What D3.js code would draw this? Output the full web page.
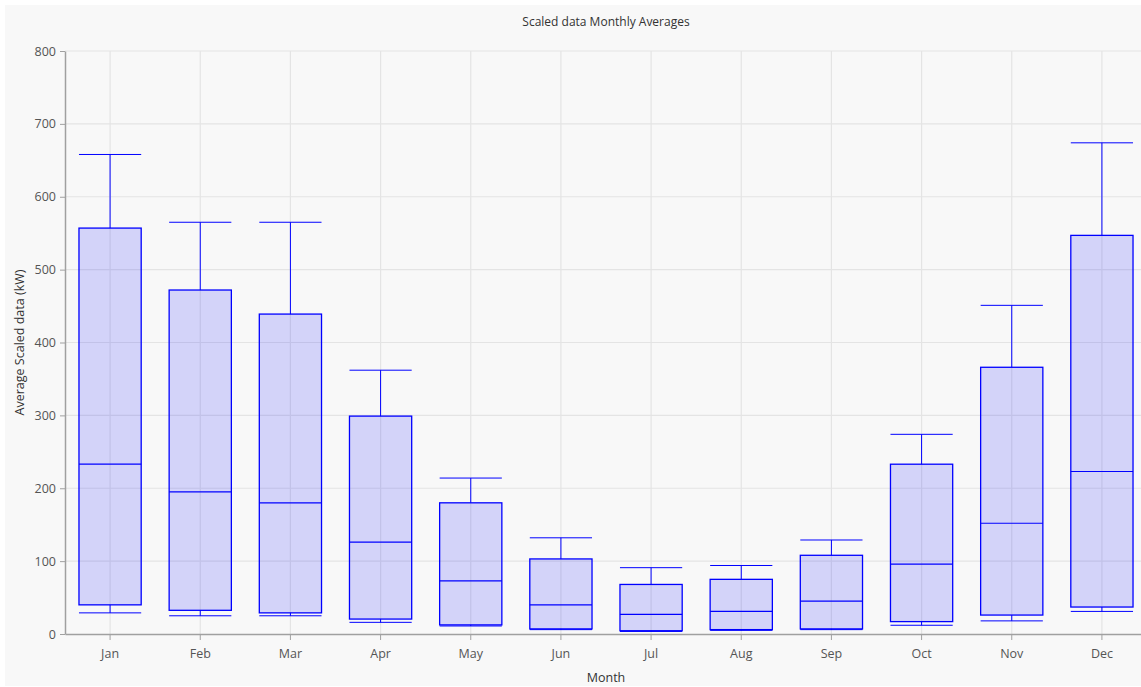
<!DOCTYPE html>
<html><head><meta charset="utf-8">
<script src="https://cdn.jsdelivr.net/npm/d3@7"></script>
<style>
html,body{margin:0;padding:0;background:#fff;}
svg{display:block;font-family:"Open Sans","Noto Sans",sans-serif;}
</style></head>
<body>
<svg id="c" width="1141" height="687"></svg>
<script>
const months = ["Jan","Feb","Mar","Apr","May","Jun","Jul","Aug","Sep","Oct","Nov","Dec"];
const whiskerLow  = [29, 25, 25, 16, 11, 6, 3.5, 5, 6, 12, 18, 31];
const q1          = [40, 32.5, 29, 20.5, 12.5, 7, 4.5, 6, 7, 17, 26, 37];
const median      = [233, 195, 180, 126, 73, 40, 27, 31, 45, 96, 152, 223];
const q3          = [557, 472, 439, 299, 180, 103, 68, 75, 108, 233, 366, 547];
const whiskerHigh = [658, 565, 565, 362, 214, 132, 91, 94, 129, 274, 451, 674];
const yTicks = [0,100,200,300,400,500,600,700,800];

const title = "Scaled data Monthly Averages";
const xTitle = "Month";
const yTitle = "Average Scaled data (kW)";

const svg = d3.select("#c");
const W = 1141, H = 687;
const m = {left:65, right:-6, top:51, bottom:53};

svg.append("rect").attr("x",5).attr("y",5).attr("width",W-5).attr("height",H-6).attr("fill","#f8f8f8");

const x = d3.scaleBand().domain(months).range([m.left, W - m.right]).paddingInner(0).paddingOuter(0);
const y = d3.scaleLinear().domain([0,800]).range([H - m.bottom, m.top]);

const data = months.map((mo,i)=>({mo, lo:whiskerLow[i], q1:q1[i], med:median[i], q3:q3[i], hi:whiskerHigh[i]}));

// grid
const g = svg.append("g");
g.selectAll("line.h").data(yTicks.slice(1)).join("line")
  .attr("x1",m.left).attr("x2",W).attr("y1",d=>y(d)).attr("y2",d=>y(d))
  .attr("stroke","#e4e4e4").attr("stroke-width",1.2);
g.selectAll("line.v").data(months).join("line")
  .attr("x1",d=>x(d)+x.bandwidth()/2).attr("x2",d=>x(d)+x.bandwidth()/2)
  .attr("y1",m.top).attr("y2",y(0))
  .attr("stroke","#e4e4e4").attr("stroke-width",1.2);

// boxes
const bw = x.bandwidth()*0.69;
const bx = svg.append("g").selectAll("g").data(data).join("g")
  .attr("transform",d=>`translate(${x(d.mo)+x.bandwidth()/2},0)`);
const blue = "#0000ff";
bx.append("line").attr("x1",0).attr("x2",0).attr("y1",d=>y(d.hi)).attr("y2",d=>y(d.q3)).attr("stroke",blue).attr("stroke-width",1);
bx.append("line").attr("x1",0).attr("x2",0).attr("y1",d=>y(d.q1)).attr("y2",d=>y(d.lo)).attr("stroke",blue).attr("stroke-width",1);
bx.append("line").attr("x1",-bw/2).attr("x2",bw/2).attr("y1",d=>y(d.hi)).attr("y2",d=>y(d.hi)).attr("stroke",blue).attr("stroke-width",1);
bx.append("line").attr("x1",-bw/2).attr("x2",bw/2).attr("y1",d=>y(d.lo)).attr("y2",d=>y(d.lo)).attr("stroke",blue).attr("stroke-width",1);
bx.append("rect").attr("x",-bw/2).attr("width",bw)
  .attr("y",d=>y(d.q3)).attr("height",d=>y(d.q1)-y(d.q3))
  .attr("fill","rgba(0,0,255,0.15)").attr("stroke",blue).attr("stroke-width",1.3);
bx.append("line").attr("x1",-bw/2).attr("x2",bw/2).attr("y1",d=>y(d.med)).attr("y2",d=>y(d.med)).attr("stroke",blue).attr("stroke-width",1.2);

// axes
const ya = svg.append("g").attr("transform",`translate(${m.left},0)`)
  .call(d3.axisLeft(y).tickValues(yTicks).tickSize(5).tickPadding(4).tickSizeOuter(0));
const xa = svg.append("g").attr("transform",`translate(0,${y(0)})`)
  .call(d3.axisBottom(x).tickSize(6).tickPadding(9).tickSizeOuter(0));
[ya,xa].forEach(a=>{
  a.select(".domain").attr("stroke","#a0a0a0").attr("stroke-width",1.5);
  a.selectAll(".tick line").attr("stroke","#a0a0a0");
  a.selectAll(".tick text").attr("fill","#555").style("font-size","12.5px").style("font-family","'Open Sans','Noto Sans',sans-serif");
});

svg.append("text").attr("x",(m.left+W-m.right)/2).attr("y",26).attr("text-anchor","middle")
  .attr("fill","#333").style("font-size","12px").text(title);
svg.append("text").attr("x",(m.left+W-m.right)/2).attr("y",682).attr("text-anchor","middle")
  .attr("fill","#333").style("font-size","12.5px").text(xTitle);
svg.append("text").attr("transform",`translate(24,${(y(0)+y(800))/2}) rotate(-90)`).attr("text-anchor","middle")
  .attr("fill","#333").style("font-size","12.5px").text(yTitle);
</script>
</body></html>
